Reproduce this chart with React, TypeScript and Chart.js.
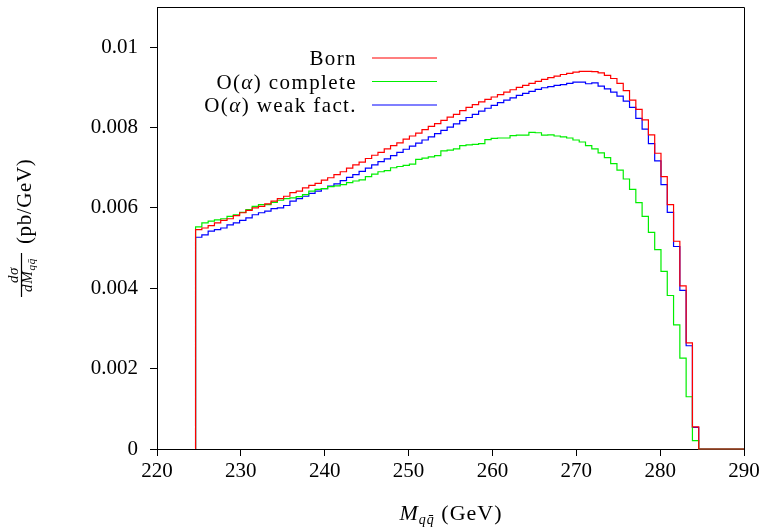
import React, { useEffect, useRef } from "react";
import { Chart, registerables } from "chart.js";

Chart.register(...registerables);

// Histogram binning (GeV)
const binStart = 224.6;
const binWidth = 0.75;
const xMin = 220;
const xMax = 290;

const xTicks = [220, 230, 240, 250, 260, 270, 280, 290];
const yTicks = [0, 0.002, 0.004, 0.006, 0.008, 0.01];
const yTickLabels = ["0", "0.002", "0.004", "0.006", "0.008", "0.01"];
const yMax = 0.011;

const seriesNames = ["Born", "O(α) complete", "O(α) weak fact."];
const seriesColors = ["#ff0000", "#00ee00", "#0000ff"];

// dσ/dM (pb/GeV), one value per 0.75 GeV bin starting at 224.6 GeV
const born = [
  0.00546, 0.0055, 0.00556, 0.00563, 0.00569, 0.00573, 0.00581, 0.00588, 0.00594, 0.006,
  0.00604, 0.0061, 0.00617, 0.00623, 0.00629, 0.00638, 0.00642, 0.0065, 0.00656, 0.00661,
  0.00669, 0.00675, 0.00683, 0.0069, 0.00699, 0.00707, 0.00714, 0.00723, 0.00731, 0.00738,
  0.00747, 0.00755, 0.00762, 0.00771, 0.00779, 0.00786, 0.00795, 0.00803, 0.0081, 0.00818,
  0.00826, 0.00833, 0.00842, 0.0085, 0.00857, 0.00864, 0.0087, 0.00876, 0.00882, 0.00888,
  0.00894, 0.009, 0.00905, 0.0091, 0.00915, 0.0092, 0.00924, 0.00928, 0.00932, 0.00935,
  0.00938, 0.0094, 0.0094, 0.00939, 0.00936, 0.0093, 0.00922, 0.0091, 0.00892, 0.00868,
  0.00845, 0.00819, 0.00782, 0.00736, 0.00678, 0.00608, 0.00517, 0.00406, 0.00264, 0.00055,
];

const complete = [
  0.00553, 0.00563, 0.00567, 0.0057, 0.00573, 0.00579, 0.00583, 0.00589, 0.00596, 0.00604,
  0.00608, 0.00608, 0.00614, 0.00619, 0.00623, 0.00625, 0.00628, 0.00633, 0.00642, 0.00646,
  0.00648, 0.00653, 0.00655, 0.00658, 0.00663, 0.00667, 0.0067, 0.00678, 0.00684, 0.0069,
  0.00693, 0.007, 0.00703, 0.00706, 0.00709, 0.00721, 0.00724, 0.00727, 0.0073, 0.00742,
  0.00744, 0.00747, 0.00755, 0.00757, 0.00758, 0.0076, 0.0077, 0.00773, 0.00774, 0.00774,
  0.0078, 0.00781, 0.00781, 0.00788, 0.00787, 0.00781, 0.00782, 0.00779, 0.00777, 0.00774,
  0.00769, 0.00764, 0.00755, 0.00747, 0.00737, 0.00725, 0.0071, 0.00694, 0.00672, 0.00646,
  0.00613, 0.00579, 0.00539, 0.00496, 0.00442, 0.00382, 0.00309, 0.00226, 0.0013, 0.00021,
];

const weak = [
  0.00527, 0.00533, 0.00542, 0.00546, 0.0055, 0.00558, 0.00563, 0.00569, 0.00575, 0.00583,
  0.00588, 0.00592, 0.00598, 0.006, 0.00606, 0.00617, 0.00623, 0.00629, 0.00636, 0.00642,
  0.00648, 0.00654, 0.0066, 0.00668, 0.00676, 0.00683, 0.00691, 0.00699, 0.00707, 0.00715,
  0.00722, 0.0073, 0.00738, 0.00746, 0.00754, 0.00761, 0.00769, 0.00777, 0.00785, 0.00793,
  0.00801, 0.00809, 0.00817, 0.00825, 0.00833, 0.00841, 0.00848, 0.00855, 0.00862, 0.00868,
  0.00874, 0.0088, 0.00885, 0.0089, 0.00895, 0.00899, 0.00902, 0.00905, 0.00907, 0.0091,
  0.00913, 0.00913, 0.00909, 0.00911, 0.00903, 0.00896, 0.00888, 0.00878, 0.00866, 0.0085,
  0.00823, 0.00796, 0.0076, 0.00717, 0.00658, 0.00589, 0.00504, 0.00395, 0.00257, 0.00054,
];

const FAMILY = "'Liberation Serif', 'Times New Roman', serif";
const TICK_SIZE = 21;

type Part = { text: string; font: string; dy?: number };

function partsWidth(ctx: CanvasRenderingContext2D, parts: Part[]) {
  let w = 0;
  for (const p of parts) {
    ctx.font = p.font;
    w += ctx.measureText(p.text).width;
  }
  return w;
}

function drawParts(
  ctx: CanvasRenderingContext2D,
  parts: Part[],
  x: number,
  y: number,
  align: "left" | "right" | "center",
  spacing = "0px"
) {
  (ctx as any).letterSpacing = spacing;
  const w = partsWidth(ctx, parts);
  let cx = align === "left" ? x : align === "right" ? x - w : x - w / 2;
  ctx.textAlign = "left";
  ctx.textBaseline = "alphabetic";
  for (const p of parts) {
    ctx.font = p.font;
    ctx.fillText(p.text, cx, y + (p.dy || 0));
    cx += ctx.measureText(p.text).width;
  }
  (ctx as any).letterSpacing = "0px";
}

const up = (s: number) => `${s}px ${FAMILY}`;
const it = (s: number) => `italic ${s}px ${FAMILY}`;

function legendParts(name: string): Part[] {
  if (name.startsWith("O(α)")) {
    return [
      { text: "O", font: up(TICK_SIZE) },
      { text: "(", font: up(TICK_SIZE) },
      { text: "α", font: it(TICK_SIZE) },
      { text: ")", font: up(TICK_SIZE) },
      { text: name.slice(4), font: up(TICK_SIZE) },
    ];
  }
  return [{ text: name, font: up(TICK_SIZE) }];
}

const textPlugin = {
  id: "texts",
  beforeDatasetsDraw(chart: any) {
    const { ctx, chartArea } = chart;
    ctx.save();
    ctx.strokeStyle = "#000";
    ctx.lineWidth = 1;
    ctx.beginPath();
    ctx.moveTo(Math.round(chartArea.left) + 0.5, Math.round(chartArea.top) + 0.5);
    ctx.lineTo(Math.round(chartArea.right) + 0.5, Math.round(chartArea.top) + 0.5);
    ctx.lineTo(Math.round(chartArea.right) + 0.5, Math.round(chartArea.bottom) + 0.5);
    ctx.stroke();
    ctx.restore();
  },
  afterDraw(chart: any) {
    const { ctx } = chart;
    ctx.save();
    ctx.fillStyle = "#000";

    // Legend
    const legendY = [58, 81.5, 105];
    seriesNames.forEach((name, i) => {
      const y = legendY[i];
      drawParts(ctx, legendParts(name), 357, y + 7, "right", "1.4px");
      ctx.strokeStyle = seriesColors[i];
      ctx.lineWidth = 1.2;
      ctx.beginPath();
      ctx.moveTo(372, y);
      ctx.lineTo(437, y);
      ctx.stroke();
    });

    // X title: M_{q qbar} (GeV)
    drawParts(
      ctx,
      [
        { text: "M", font: it(22) },
        { text: "qq̄", font: it(14), dy: 4 },
        { text: " (GeV)", font: up(22) },
      ],
      451,
      520,
      "center",
      "1px"
    );

    // Y title (rotated): dσ/dM_{q qbar} (pb/GeV)
    ctx.save();
    ctx.translate(0, 298);
    ctx.rotate(-Math.PI / 2);
    drawParts(ctx, [{ text: "dσ", font: it(15) }], 23, 18, "center", "0.5px");
    ctx.strokeStyle = "#000";
    ctx.lineWidth = 1.2;
    ctx.beginPath();
    ctx.moveTo(1, 21.5);
    ctx.lineTo(45, 21.5);
    ctx.stroke();
    drawParts(
      ctx,
      [
        { text: "dM", font: it(15) },
        { text: "qq̄", font: it(11), dy: 3 },
      ],
      23,
      32,
      "center",
      "0.8px"
    );
    drawParts(ctx, [{ text: "(pb/GeV)", font: up(21) }], 54, 31, "left", "0.6px");
    ctx.restore();

    ctx.restore();
  },
};

function toPoints(vals: number[]) {
  const pts: { x: number; y: number }[] = [{ x: binStart, y: 0 }];
  vals.forEach((v, i) => pts.push({ x: binStart + i * binWidth, y: v }));
  pts.push({ x: binStart + vals.length * binWidth, y: 0 });
  pts.push({ x: xMax, y: 0 });
  return pts;
}

export default function App() {
  const ref = useRef<HTMLCanvasElement>(null);

  useEffect(() => {
    const canvas = ref.current;
    if (!canvas) return;
    const allSeries = [born, complete, weak];
    const chart = new Chart(canvas, {
      type: "line",
      data: {
        datasets: allSeries.map((vals, i) => ({
          label: seriesNames[i],
          data: toPoints(vals),
          borderColor: seriesColors[i],
          backgroundColor: seriesColors[i],
          borderWidth: 1.2,
          pointRadius: 0,
          stepped: "before" as const,
          fill: false,
          clip: 2,
        })),
      },
      options: {
        animation: false,
        responsive: false,
        devicePixelRatio: 1,
        layout: { padding: { top: 7, right: 22, left: 0, bottom: 0 } },
        plugins: {
          legend: { display: false },
          tooltip: { enabled: false },
        },
        scales: {
          x: {
            type: "linear",
            min: xMin,
            max: xMax,
            afterBuildTicks: (scale: any) => {
              scale.ticks = xTicks.map((v) => ({ value: v }));
            },
            afterFit: (scale: any) => {
              scale.height = 78;
              scale.paddingLeft = 0;
              scale.paddingRight = 0;
            },
            ticks: {
              autoSkip: false,
              maxRotation: 0,
              padding: 3,
              color: "#000",
              font: { family: FAMILY, size: TICK_SIZE },
              callback: (v: any) => String(v),
            },
            grid: { drawOnChartArea: false, drawTicks: true, tickLength: 7, color: "#000" },
            border: { display: true, color: "#000", width: 1 },
          },
          y: {
            type: "linear",
            min: 0,
            max: yMax,
            afterBuildTicks: (scale: any) => {
              scale.ticks = yTicks.map((v) => ({ value: v }));
            },
            afterFit: (scale: any) => {
              scale.width = 157;
              scale.paddingTop = 0;
              scale.paddingBottom = 0;
            },
            ticks: {
              autoSkip: false,
              padding: 12,
              color: "#000",
              font: { family: FAMILY, size: TICK_SIZE },
              callback: (_v: any, idx: number) => yTickLabels[idx],
            },
            grid: { drawOnChartArea: false, drawTicks: true, tickLength: 7, color: "#000" },
            border: { display: true, color: "#000", width: 1 },
          },
        },
      },
      plugins: [textPlugin],
    } as any);
    return () => chart.destroy();
  }, []);

  return (
    <div style={{ position: "fixed", left: 0, top: 0, width: 766, height: 527, background: "#fff" }}>
      <canvas ref={ref} width={766} height={527} style={{ width: 766, height: 527, display: "block" }} />
    </div>
  );
}
